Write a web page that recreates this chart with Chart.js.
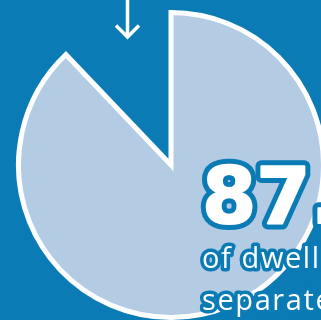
<!DOCTYPE html>
<html>
<head>
<meta charset="utf-8">
<script src="https://cdn.jsdelivr.net/npm/chart.js@4"></script>
<style>
  html, body { margin: 0; padding: 0; background: #0a7bb5; overflow: hidden; }
  canvas { display: block; }
</style>
</head>
<body>
<canvas id="pieChart" width="321" height="320"></canvas>
<script>
// Dwelling share shown in the pie
const labels = ["Separate houses", "Other dwellings"];
const shares = [87.9, 12.1];
const headline = shares[0] + "%";
const captionLines = ["of dwellings", "separate houses"];

const bgBlue = "#0a7bb5";

// Big number, caption and the pointer arrow drawn over the pie
const overlayText = {
  id: "overlayText",
  afterDraw(chart) {
    const ctx = chart.ctx;
    ctx.save();

    // arrow pointing down into the gap
    ctx.strokeStyle = "#ffffff";
    ctx.lineWidth = 3.5;
    ctx.lineCap = "butt";
    ctx.lineJoin = "miter";
    ctx.beginPath();
    ctx.moveTo(127.5, 0);
    ctx.lineTo(127.5, 37);
    ctx.stroke();
    ctx.beginPath();
    ctx.moveTo(116, 25.5);
    ctx.lineTo(127.5, 37);
    ctx.lineTo(139, 25.5);
    ctx.stroke();

    ctx.lineJoin = "round";
    ctx.textBaseline = "alphabetic";
    ctx.textAlign = "left";

    // headline figure, heavy with a blue outline
    ctx.font = "bold 78px 'DejaVu Sans'";
    ctx.strokeStyle = bgBlue;
    ctx.lineWidth = 12;
    ctx.strokeText(headline, 202, 223);
    ctx.fillStyle = "#ffffff";
    ctx.fillText(headline, 202, 223);
    ctx.strokeStyle = "#ffffff";
    ctx.lineWidth = 2;
    ctx.strokeText(headline, 202, 223);

    // caption lines
    ctx.font = "29px 'Open Sans'";
    ctx.letterSpacing = "1.6px";
    ctx.strokeStyle = bgBlue;
    ctx.lineWidth = 7;
    ctx.strokeText(captionLines[0], 202, 268);
    ctx.strokeText(captionLines[1], 202, 310);
    ctx.fillText(captionLines[0], 202, 268);
    ctx.fillText(captionLines[1], 202, 310);

    ctx.restore();
  },
};

const ctxPie = document.getElementById("pieChart").getContext("2d");
new Chart(ctxPie, {
  type: "pie",
  data: {
    labels: labels,
    datasets: [
      {
        data: shares,
        backgroundColor: ["#b3cbe3", "rgba(0,0,0,0)"],
        borderColor: ["#ffffff", "rgba(0,0,0,0)"],
        borderWidth: [5, 0],
        borderJoinStyle: "miter",
        radius: 152.5,
      },
    ],
  },
  options: {
    responsive: false,
    animation: false,
    layout: {
      padding: { left: 21, top: 10, right: 0, bottom: 0 },
    },
    plugins: {
      legend: { display: false },
      tooltip: { enabled: false },
    },
  },
  plugins: [overlayText],
});
</script>
</body>
</html>
